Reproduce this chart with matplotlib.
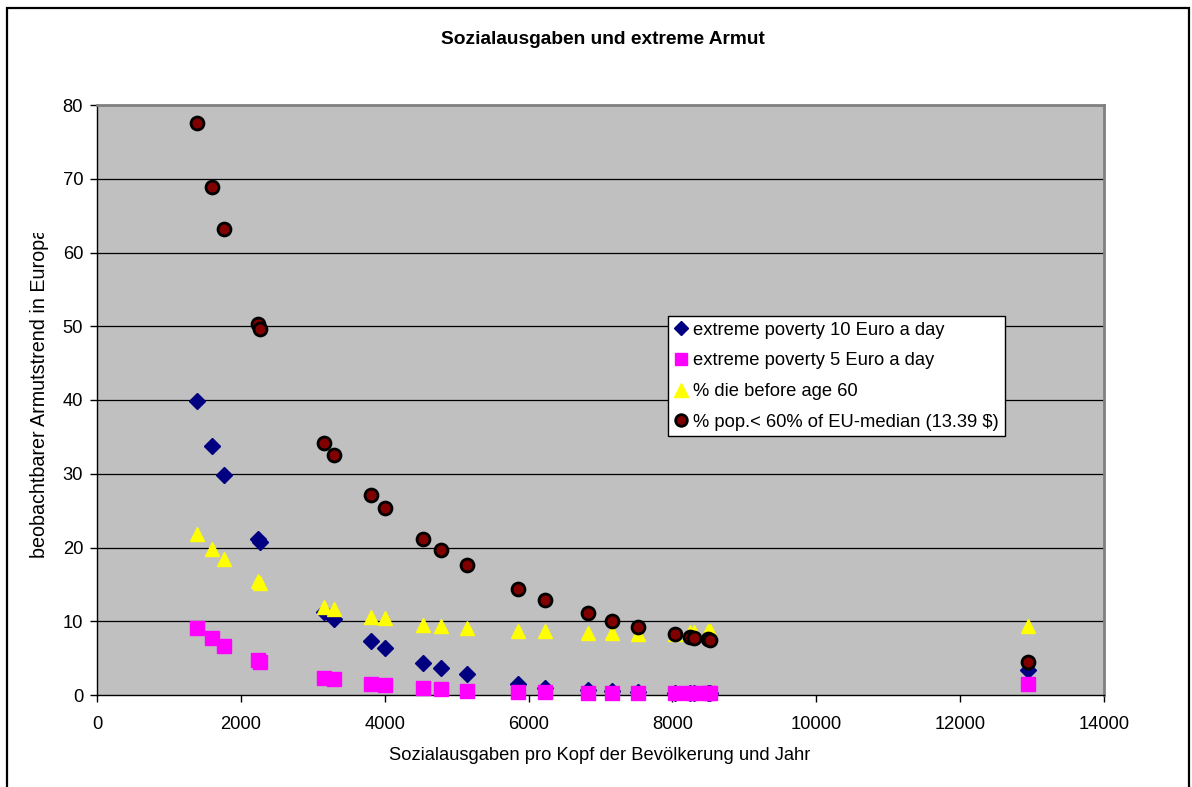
import matplotlib
matplotlib.use("Agg")
import matplotlib.pyplot as plt
from matplotlib.patches import Rectangle

plt.rcParams['font.family'] = ['Liberation Sans', 'DejaVu Sans']

# ---- data ----
spending = [1390, 1599, 1766, 2238, 2266, 3156, 3295, 3809, 4004, 4532, 4782,
            5144, 5853, 6228, 6826, 7160, 7521, 8036, 8244, 8300, 8495, 8522, 12943]
poverty10 = [39.9, 33.8, 29.8, 21.1, 20.8, 11.3, 10.3, 7.3, 6.4, 4.3, 3.7,
             2.8, 1.5, 1.0, 0.7, 0.5, 0.4, 0.3, 0.3, 0.3, 0.3, 0.3, 3.4]
poverty5 = [9.1, 7.7, 6.6, 4.7, 4.5, 2.3, 2.2, 1.5, 1.4, 0.9, 0.8,
            0.6, 0.4, 0.4, 0.3, 0.3, 0.3, 0.3, 0.3, 0.3, 0.3, 0.3, 1.5]
die_before60 = [21.8, 19.8, 18.4, 15.4, 15.2, 11.9, 11.7, 10.6, 10.4, 9.5, 9.4,
                9.1, 8.7, 8.7, 8.4, 8.4, 8.3, 8.3, 8.5, 8.5, 8.7, 8.7, 9.4]
below60median = [77.6, 68.9, 63.2, 50.3, 49.6, 34.2, 32.5, 27.1, 25.4, 21.2, 19.7,
                 17.6, 14.4, 12.9, 11.1, 10.0, 9.2, 8.3, 7.9, 7.7, 7.6, 7.5, 4.5]
series_labels = ["extreme poverty 10 Euro a day", "extreme poverty 5 Euro a day",
                 "% die before age 60", "% pop.< 60% of EU-median (13.39 $)"]
x_ticks = [0, 2000, 4000, 6000, 8000, 10000, 12000, 14000]
y_ticks = [0, 10, 20, 30, 40, 50, 60, 70, 80]
title = "Sozialausgaben und extreme Armut"
x_label = "Sozialausgaben pro Kopf der Bevölkerung und Jahr"
y_label = "beobachtbarer Armutstrend in Europa"

W, H = 1192, 787
fig = plt.figure(figsize=(W / 100, H / 100), dpi=100)
fig.patch.set_facecolor('white')

L, R, T, B = 97, 1104, 105, 695
ax = fig.add_axes([L / W, 1 - B / H, (R - L) / W, (B - T) / H])
ax.set_facecolor('#C0C0C0')
ax.set_xlim(0, 14000)
ax.set_ylim(0, 80)
ax.set_xticks(x_ticks)
ax.set_yticks(y_ticks)
ax.tick_params(axis='both', direction='out', length=5, width=1, labelsize=13.2,
               colors='black', pad=5)
ax.tick_params(axis='x', pad=10)
for y in y_ticks[1:-1]:
    ax.axhline(y, color='black', lw=0.9, zorder=1)
for s in ['top', 'right']:
    ax.spines[s].set_color('#808080')
    ax.spines[s].set_linewidth(2)
for s in ['left', 'bottom']:
    ax.spines[s].set_color('black')
    ax.spines[s].set_linewidth(1)

ax.plot(spending, poverty10, ls='none', marker='D', ms=8.3, mfc='#000080',
        mec='#000080', label=series_labels[0], zorder=3, clip_on=False)
ax.plot(spending, poverty5, ls='none', marker='s', ms=10, mfc='#FF00FF',
        mec='#FF00FF', label=series_labels[1], zorder=4, clip_on=False)
ax.plot(spending, die_before60, ls='none', marker='^', ms=10.5, mfc='#FFFF00',
        mec='#FFFF00', label=series_labels[2], zorder=5, clip_on=False)
ax.plot(spending, below60median, ls='none', marker='o', ms=9.3, mfc='#800000',
        mec='black', mew=2.0, label=series_labels[3], zorder=6, clip_on=False)

leg = fig.legend(loc='upper left', bbox_to_anchor=(668 / W, 1 - 316 / H),
                 fontsize=13.2, frameon=True, fancybox=False, shadow=False,
                 borderpad=0.32, labelspacing=0.74, handlelength=0.8,
                 handletextpad=0.25, borderaxespad=0, markerscale=0.9)
leg.get_frame().set_edgecolor('black')
leg.get_frame().set_linewidth(1)
leg.get_frame().set_facecolor('white')
leg.get_frame().set_alpha(1)
leg.set_zorder(10)

fig.text(603 / W, 1 - 40 / H, title, ha='center', va='center',
         fontsize=13.8, fontweight='bold')
fig.text(600 / W, 1 - 755 / H, x_label, ha='center', va='center', fontsize=13.2)
fig.text(40 / W, 1 - 558 / H, y_label, ha='center', va='bottom',
         rotation=90, fontsize=14.2)
# the reference label is cut off at its top end
fig.patches.append(Rectangle((20 / W, 1 - 233 / H), 45 / W, 60 / H,
                             transform=fig.transFigure, facecolor='white',
                             edgecolor='none', zorder=5))

fig.patches.append(Rectangle((7 / W, -0.05), (1189 - 7) / W, 1.05 - 8 / H,
                             transform=fig.transFigure, fill=False,
                             edgecolor='black', lw=1.6, zorder=0))

fig.savefig('out.png', dpi=100)
